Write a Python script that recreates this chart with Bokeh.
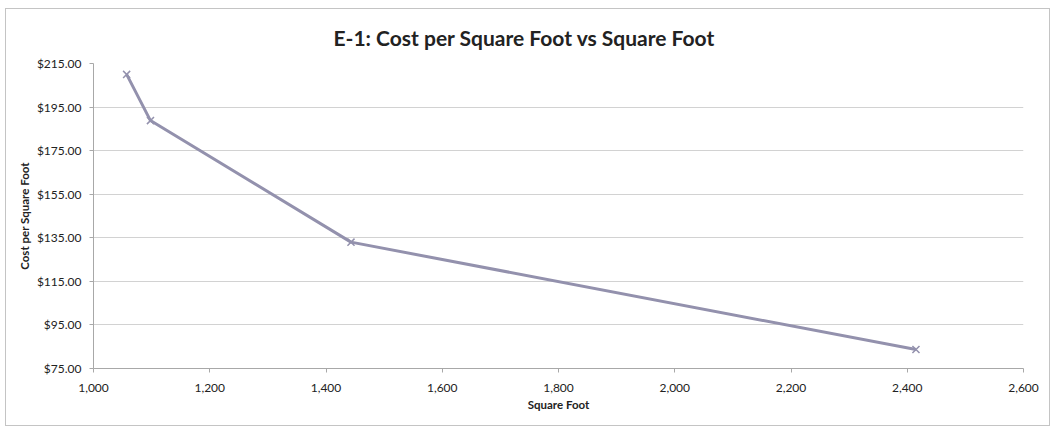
from bokeh.plotting import figure
from bokeh.models import NumeralTickFormatter, FixedTicker, Range1d, Title
from bokeh.embed import file_html
from bokeh.resources import INLINE

# Square footage and the matching cost per square foot
square_feet = [1057, 1098, 1443, 2415]
cost_per_sqft = [210.0, 188.8, 133.0, 83.7]

x_ticks = [1000, 1200, 1400, 1600, 1800, 2000, 2200, 2400, 2600]
y_ticks = [75, 95, 115, 135, 155, 175, 195, 215]

FONT = "Lato"
LINE = "#9391ad"
GRID = "#d2d2d2"
TEXT = "#222222"

p = figure(
    width=1045, height=418,
    x_range=Range1d(1000, 2600), y_range=Range1d(75, 215),
    output_backend="svg", toolbar_location=None,
    min_border_left=87, min_border_right=28, min_border_top=53, min_border_bottom=59,
)
p.styles = {"margin-left": "5px", "margin-top": "8px", "border": "1px solid #c4c4c4"}

p.title = None
title = Title(text="E-1: Cost per Square Foot vs Square Foot", align="left",
              text_font=FONT, text_font_size="21px", text_font_style="bold",
              text_color=TEXT, offset=240, standoff=27)
p.add_layout(title, "above")

p.line(square_feet, cost_per_sqft, line_color=LINE, line_width=3)
p.scatter(square_feet, cost_per_sqft, marker="x", size=10, line_color=LINE, line_width=1.5)

p.outline_line_color = None
p.xgrid.grid_line_color = None
p.ygrid.grid_line_color = GRID
p.ygrid.grid_line_width = 1

p.xaxis.ticker = FixedTicker(ticks=x_ticks)
p.yaxis.ticker = FixedTicker(ticks=y_ticks)
p.xaxis.formatter = NumeralTickFormatter(format="0,0")
p.yaxis.formatter = NumeralTickFormatter(format="$0.00")

for ax in (p.xaxis[0], p.yaxis[0]):
    ax.axis_line_color = "#a8a8a8"
    ax.major_tick_line_color = "#a8a8a8"
    ax.minor_tick_line_color = None
    ax.major_tick_in = 0
    ax.major_tick_out = 4
    ax.major_label_text_font = FONT
    ax.major_label_text_font_size = "12px"
    ax.major_label_text_color = TEXT
    ax.axis_label_text_font = FONT
    ax.axis_label_text_font_size = "11.5px"
    ax.axis_label_text_font_style = "bold"
    ax.axis_label_text_color = TEXT

p.xaxis.axis_label = "Square Foot"
p.yaxis.axis_label = "Cost per Square Foot"
p.xaxis.major_label_standoff = 11
p.yaxis.major_label_standoff = 8
p.xaxis.axis_label_standoff = 3
p.yaxis.axis_label_standoff = 3

open("out.html", "w").write(file_html(p, INLINE))
